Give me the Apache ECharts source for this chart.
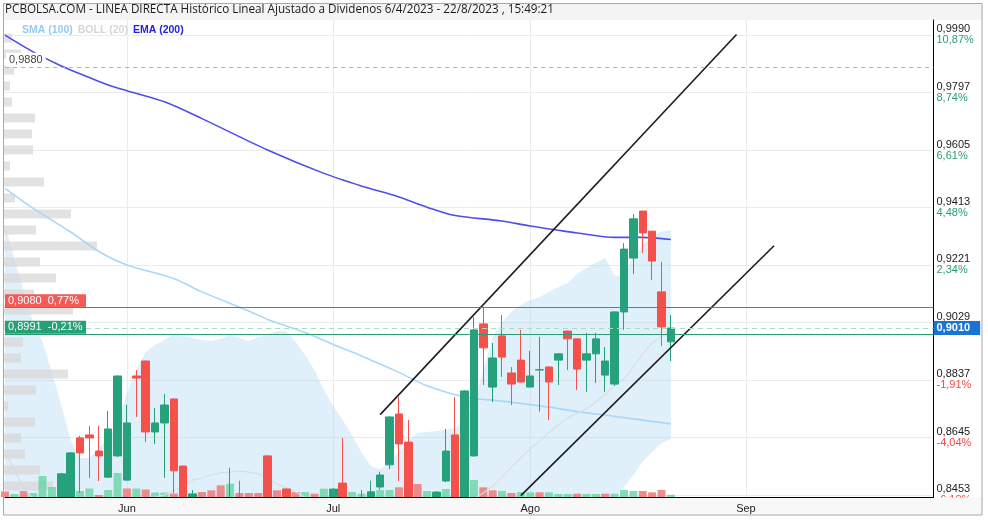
<!DOCTYPE html>
<html><head><meta charset="utf-8">
<script src="https://cdn.jsdelivr.net/npm/echarts/dist/echarts.min.js"></script>
<style>html,body{margin:0;padding:0;background:#fff}#c{width:988px;height:520px}</style>
</head><body><div id="c"></div>
<script>
// ---------- categories (trading days, dd/m) ----------
const dates = ['15/5','16/5','17/5','18/5','19/5','22/5','23/5','24/5','25/5','26/5','29/5','30/5','31/5',
'1/6','2/6','5/6','6/6','7/6','8/6','9/6','12/6','13/6','14/6','15/6','16/6','19/6','20/6','21/6','22/6','23/6','26/6','27/6','28/6','29/6','30/6',
'3/7','4/7','5/7','6/7','7/7','10/7','11/7','12/7','13/7','14/7','17/7','18/7','19/7','20/7','21/7','24/7','25/7','26/7','27/7','28/7','31/7',
'1/8','2/8','3/8','4/8','7/8','8/8','9/8','10/8','11/8','14/8','15/8','16/8','17/8','18/8','21/8','22/8','23/8','24/8','25/8','28/8','29/8','30/8','31/8',
'1/9','4/9','5/9','6/9','7/9','8/9','11/9','12/9','13/9','14/9','15/9','18/9','19/9','20/9','21/9','22/9','25/9','26/9','27/9','28/9','29/9'];
const monthStarts = ['1/6','3/7','1/8','1/9'];
const monthNames = ['Jun','Jul','Ago','Sep'];

// ---------- OHLC ----------
const opens = [0.8430,0.8410,0.8425,0.8405,0.8400,0.8420,0.8400,0.8440,0.8643,0.8653,
0.8599,0.8512,0.8583,0.8502,0.8850,0.8900,0.8663,0.8693,0.8773,0.8549,
0.8445,0.8440,0.8425,0.8415,0.8395,0.8420,0.8410,0.8405,0.8583,0.8410,
0.8472,0.8410,0.8400,0.8410,0.8405,0.8420,0.8492,0.8420,0.8430,0.8430,
0.8479,0.8553,0.8723,0.8629,0.8435,0.8425,0.8440,0.8499,0.8653,0.8440,
0.8583,0.9024,0.8813,0.8984,0.8860,0.8903,0.8813,0.8870,0.8880,0.8903,
0.9000,0.8974,0.8903,0.8924,0.8853,0.8823,0.9064,0.9244,0.9401,0.9334,
0.9131,0.8964];
const closes = [0.8410,0.8425,0.8405,0.8415,0.8435,0.8440,0.8523,0.8593,0.8593,0.8643,
0.8583,0.8673,0.8850,0.8693,0.8843,0.8663,0.8693,0.8753,0.8533,0.8420,
0.8456,0.8420,0.8410,0.8395,0.8420,0.8405,0.8400,0.8395,0.8405,0.8400,
0.8410,0.8400,0.8410,0.8405,0.8420,0.8472,0.8420,0.8430,0.8440,0.8463,
0.8519,0.8713,0.8623,0.8430,0.8420,0.8440,0.8462,0.8599,0.8430,0.8800,
0.9004,0.8944,0.8910,0.8913,0.8823,0.8830,0.8850,0.8871,0.8830,0.8924,
0.8974,0.8873,0.8924,0.8974,0.8900,0.9064,0.9274,0.9375,0.9328,0.9234,
0.9014,0.9010];
const lows = [0.8390,0.8400,0.8395,0.8395,0.8390,0.8410,0.8390,0.8430,0.8459,0.8509,
0.8499,0.8509,0.8579,0.8500,0.8713,0.8629,0.8623,0.8509,0.8459,0.8400,
0.8440,0.8410,0.8400,0.8390,0.8390,0.8400,0.8395,0.8390,0.8400,0.8390,
0.8400,0.8390,0.8395,0.8395,0.8400,0.8415,0.8410,0.8410,0.8420,0.8420,
0.8470,0.8539,0.8499,0.8420,0.8410,0.8415,0.8430,0.8495,0.8420,0.8430,
0.8580,0.8820,0.8763,0.8847,0.8753,0.8828,0.8813,0.8731,0.8703,0.8820,
0.8870,0.8803,0.8797,0.8827,0.8797,0.8817,0.9004,0.9191,0.9261,0.9171,
0.8950,0.8900];
const highs = [0.8440,0.8435,0.8438,0.8430,0.8440,0.8444,0.8525,0.8595,0.8650,0.8683,
0.8683,0.8733,0.8852,0.8753,0.8870,0.8902,0.8743,0.8790,0.8775,0.8550,
0.8469,0.8444,0.8440,0.8430,0.8543,0.8500,0.8430,0.8425,0.8585,0.8430,
0.8474,0.8425,0.8430,0.8425,0.8435,0.8474,0.8643,0.8440,0.8469,0.8500,
0.8530,0.8715,0.8780,0.8703,0.8440,0.8444,0.8465,0.8673,0.8780,0.8802,
0.9047,0.9077,0.8960,0.9054,0.8880,0.9004,0.8934,0.8981,0.8882,0.8926,
0.9001,0.8975,0.8994,0.8994,0.8947,0.9066,0.9294,0.9391,0.9402,0.9335,
0.9231,0.9054];

// ---------- volume (thousand shares) ----------
const volumes = [110,60,120,80,420,200,160,200,120,170,40,140,480,170,170,150,90,90,70,120,
50,100,134,234,266,80,80,80,160,134,174,100,100,66,166,120,100,100,66,80,
140,140,194,200,260,120,80,160,200,240,340,194,134,120,80,100,94,94,94,60,
60,66,60,60,66,66,140,120,120,94,140,46];
const volDir = ['d','u','d','u','u','u','u','u','u','u','d','u','u','d','u','d','u','u','d','d',
'u','d','d','d','u','d','d','d','d','d','u','d','u','d','u','u','d','u','u','u',
'u','u','d','d','d','u','u','u','d','u','u','d','d','u','d','u','u','d','u','u',
'u','d','u','u','d','u','u','u','d','d','d','u'];

// ---------- Bollinger (20) ----------
const bollUpper = [0.9355,0.9244,0.9131,0.9030,0.8964,0.8863,0.8753,0.8636,0.8576,0.8576,
0.8609,0.8643,0.8686,0.8793,0.8870,0.8930,0.8954,0.8970,0.8990,0.8984,
0.8977,0.8970,0.8967,0.8974,0.8987,0.8977,0.8967,0.8980,0.8990,0.9000,
0.9000,0.8964,0.8920,0.8870,0.8803,0.8750,0.8703,0.8653,0.8596,0.8549,
0.8539,0.8559,0.8596,0.8636,0.8660,0.8663,0.8666,0.8670,0.8676,0.8696,
0.8753,0.8870,0.8980,0.9030,0.9064,0.9087,0.9104,0.9114,0.9131,0.9147,
0.9161,0.9191,0.9211,0.9228,0.9244,0.9184,0.9187,0.9248,0.9288,0.9318,
0.9334,0.9338];
const bollMid = [0.8596,0.8536,0.8476,0.8440,0.8425,0.8415,0.8410,0.8405,0.8405,0.8405,
0.8410,0.8415,0.8422,0.8430,0.8436,0.8441,0.8445,0.8452,0.8469,0.8479,
0.8502,0.8509,0.8519,0.8526,0.8529,0.8533,0.8529,0.8523,0.8509,0.8489,
0.8476,0.8462,0.8445,0.8435,0.8425,0.8420,0.8415,0.8410,0.8405,0.8400,
0.8400,0.8402,0.8405,0.8408,0.8410,0.8415,0.8420,0.8425,0.8430,0.8435,
0.8440,0.8459,0.8482,0.8512,0.8546,0.8576,0.8606,0.8633,0.8660,0.8686,
0.8710,0.8726,0.8740,0.8763,0.8790,0.8817,0.8840,0.8880,0.8924,0.8960,
0.8984,0.8997];
const bollLower = [0.7837,0.7828,0.7821,0.7850,0.7886,0.7967,0.8067,0.8174,0.8234,0.8234,
0.8211,0.8187,0.8158,0.8067,0.8002,0.7952,0.7936,0.7934,0.7948,0.7974,
0.8027,0.8048,0.8071,0.8078,0.8071,0.8089,0.8091,0.8066,0.8028,0.7978,
0.7952,0.7960,0.7970,0.8000,0.8047,0.8090,0.8127,0.8167,0.8214,0.8251,
0.8261,0.8245,0.8214,0.8180,0.8160,0.8167,0.8174,0.8180,0.8184,0.8174,
0.8127,0.8048,0.7984,0.7994,0.8028,0.8065,0.8108,0.8152,0.8189,0.8225,
0.8259,0.8261,0.8269,0.8298,0.8336,0.8445,0.8479,0.8519,0.8563,0.8596,
0.8625,0.8640];

// ---------- SMA (100) and EMA (200), read at sampled days ----------
const smaDates = ['15/5','18/5','24/5','29/5','1/6','8/6','13/6','20/6','22/6','28/6','3/7','6/7','12/7','17/7','21/7','27/7','3/8','8/8','14/8','22/8'];
const smaVals = [0.9477,0.9410,0.9331,0.9266,0.9221,0.9176,0.9131,0.9067,0.9039,0.8995,0.8955,0.8917,0.8862,0.8817,0.8780,0.8766,0.8746,0.8731,0.8715,0.8690];
const emaDates = ['15/5','18/5','23/5','26/5','30/5','1/6','7/6','13/6','22/6','30/6','6/7','12/7','17/7','20/7','27/7','1/8','4/8','8/8','14/8','17/8','22/8'];
const emaVals = [0.9989,0.9933,0.9886,0.9847,0.9822,0.9803,0.9766,0.9710,0.9605,0.9527,0.9485,0.9448,0.9414,0.9386,0.9368,0.9351,0.9337,0.9328,0.9313,0.9313,0.9306];

// ---------- trend lines (drawn objects) ----------
const trendUpDates = ['10/7','31/8'];
const trendUpVals = [0.8721,0.9991];
const trendLowDates = ['31/7','6/9'];
const trendLowVals = [0.8450,0.9285];

// ---------- volume profile ----------
const profBins = ['0,8482','0,8535','0,8589','0,8642','0,8696','0,8749','0,8803','0,8856','0,8910','0,8963',
'0,9017','0,9070','0,9124','0,9177','0,9230','0,9284','0,9337','0,9391','0,9444','0,9498',
'0,9551','0,9605','0,9658','0,9712','0,9765','0,9818','0,9872','0,9925','0,9979'];
const profVols = [490,360,210,170,310,40,320,640,170,190,400,690,300,520,360,930,320,670,110,400,60,290,280,310,80,60,100,170,80];

// ---------- axis ticks & levels ----------
const tickVals = [0.8453,0.8645,0.8837,0.9029,0.9221,0.9413,0.9605,0.9797,0.9990];
const tickPct = ['-6,18%','-4,04%','-1,91%','0,21%','2,34%','4,48%','6,61%','8,74%','10,87%'];
const lastPrice = 0.9010;
const lastLabel = '0,9010';
const levelVals = [0.9880, 0.9080, 0.8991];
const levelLabels = ['0,9880', '0,9080  0,77%', '0,8991  -0,21%'];

const titleText = 'PCBOLSA.COM - LINEA DIRECTA Histórico Lineal Ajustado a Dividenos 6/4/2023 - 22/8/2023 , 15:49:21';

// ---------- build ----------
const FONT = 'Liberation Sans, Arial, sans-serif';
const UP = '#26a17b', DOWN = '#f4504c';
const candleData = opens.map((o, i) => [o, closes[i], lows[i], highs[i]]);
const volData = volumes.map((v, i) => ({ value: v, itemStyle: { color: volDir[i] === 'u' ? 'rgba(110,214,168,0.85)' : 'rgba(240,120,120,0.85)' } }));
const bandDiff = bollUpper.map((u, i) => +(u - bollLower[i]).toFixed(4));
const pairs = (ds, vs) => ds.map((d, i) => [d, vs[i]]);
const isMonthStart = (i, v) => monthStarts.indexOf(v) >= 0;

const G = { left: 5, right: 54.5, top: 20, bottom: 23 };

const chart = echarts.init(document.getElementById('c'), null, { renderer: 'canvas' });
chart.setOption({
  animation: false,
  backgroundColor: '#fff',
  textStyle: { fontFamily: FONT },
  title: { text: titleText, left: 3, top: 3, padding: [1, 2],
    textStyle: { fontFamily: 'Open Sans, sans-serif', fontSize: 11.7, fontWeight: 'normal', color: '#1a1a1a' } },
  legend: { left: 12, top: 20, itemWidth: 0, itemHeight: 0, itemGap: 0, icon: 'rect', selectedMode: false,
    textStyle: { fontSize: 10.5, fontWeight: 'bold', fontFamily: FONT },
    data: [
      { name: 'SMA (100)', textStyle: { color: '#93cdf3' } },
      { name: 'BOLL (20)', textStyle: { color: '#d6d6d6' } },
      { name: 'EMA (200)', textStyle: { color: '#2424e6' } }
    ] },
  graphic: [
    { type: 'rect', z: -10, shape: { x: 4, y: 4, width: 978, height: 16 }, style: { fill: '#f4f4f4' } },
    { type: 'rect', z: 50, shape: { x: 4, y: 497.5, width: 978, height: 17.5 }, style: { fill: '#f8f8f8' } },
    { type: 'rect', z: 100, shape: { x: 3.5, y: 3.5, width: 978.5, height: 511.5 }, style: { fill: 'none', stroke: '#a8a8a8', lineWidth: 1 } }
  ],
  grid: [
    Object.assign({}, G),
    Object.assign({}, G),
    { left: 4, right: 54.5, top: 30, height: 464 }
  ],
  xAxis: [
    { type: 'category', gridIndex: 0, data: dates, boundaryGap: false,
      axisLine: { show: false }, axisTick: { show: false }, axisLabel: { show: false },
      splitLine: { show: true, interval: isMonthStart, lineStyle: { color: '#ebebeb', width: 1 } } },
    { type: 'category', gridIndex: 1, data: dates, boundaryGap: false, z: 60,
      axisLine: { show: true, lineStyle: { color: '#000', width: 1 } }, axisTick: { show: false },
      axisLabel: { interval: isMonthStart, formatter: v => monthNames[monthStarts.indexOf(v)] || '', color: '#222', fontSize: 11, margin: 6 },
      splitLine: { show: false } },
    { type: 'value', gridIndex: 2, min: 0, max: 9295, show: false }
  ],
  yAxis: [
    { type: 'value', gridIndex: 0, position: 'right', min: 0.84456, max: 1.00395,
      axisLine: { show: true, lineStyle: { color: '#000', width: 1 } },
      axisTick: { show: false, customValues: tickVals },
      axisLabel: { customValues: tickVals, margin: 3, showMinLabel: true, showMaxLabel: true,
        formatter: v => {
          let k = -1;
          tickVals.forEach((t, i) => { if (Math.abs(t - v) < 0.0008) k = i; });
          if (k < 0) return '';
          const pct = tickPct[k];
          return '{p|' + tickVals[k].toFixed(4).replace('.', ',') + '}\n' + (pct.charAt(0) === '-' ? '{d|' : '{u|') + pct + '}';
        },
        rich: {
          p: { color: '#222', fontSize: 11, lineHeight: 11, fontFamily: FONT },
          u: { color: '#2a9d74', fontSize: 11, lineHeight: 11, fontFamily: FONT },
          d: { color: '#f04a4a', fontSize: 11, lineHeight: 11, fontFamily: FONT }
        } },
      splitLine: { show: true, lineStyle: { color: '#ebebeb', width: 1 } } },
    { type: 'value', gridIndex: 1, min: 0, max: 9540, show: false },
    { type: 'category', gridIndex: 2, data: profBins, show: false }
  ],
  series: [
    { name: 'bollLow', type: 'line', z: 1, xAxisIndex: 0, yAxisIndex: 0, stack: 'boll', data: bollLower,
      showSymbol: false, lineStyle: { opacity: 0 }, silent: true, clip: true },
    { name: 'bollBand', type: 'line', z: 1, xAxisIndex: 0, yAxisIndex: 0, stack: 'boll', data: bandDiff,
      showSymbol: false, lineStyle: { opacity: 0 }, areaStyle: { color: 'rgba(170,214,245,0.36)', opacity: 1 }, silent: true, clip: true },
    { name: 'profile', type: 'bar', z: 1, xAxisIndex: 2, yAxisIndex: 2, data: profVols, barWidth: 9,
      itemStyle: { color: 'rgba(215,215,215,0.72)' }, silent: true },
    { name: 'volume', type: 'bar', z: 1, xAxisIndex: 1, yAxisIndex: 1, data: volData, barWidth: 8, silent: true, clip: true },
    { name: 'SMA (100)', type: 'line', z: 2, data: pairs(smaDates, smaVals), showSymbol: false, smooth: 0.3, clip: true,
      lineStyle: { color: '#a9d8f7', width: 1.6 }, itemStyle: { color: '#93cdf3' } },
    { name: 'BOLL (20)', type: 'line', z: 2, data: bollMid, showSymbol: false, clip: true,
      lineStyle: { color: '#dcdcdc', width: 1.2 }, itemStyle: { color: '#d6d6d6' } },
    { name: 'EMA (200)', type: 'line', z: 2, data: pairs(emaDates, emaVals), showSymbol: false, smooth: 0.3, clip: true,
      lineStyle: { color: '#4d4dec', width: 1.6 }, itemStyle: { color: '#2424e6' } },
    { name: 'price', type: 'candlestick', z: 3, data: candleData, barWidth: 8, clip: true,
      itemStyle: { color: UP, color0: DOWN, borderColor: UP, borderColor0: DOWN, borderWidth: 1 },
      markLine: { symbol: 'none', silent: true, animation: false, precision: 4,
        data: [
          { yAxis: levelVals[0], lineStyle: { color: '#f29b95', type: [4, 4], width: 1 },
            label: { show: true, position: 'insideStartTop', formatter: levelLabels[0], color: '#444', fontSize: 11,
              backgroundColor: '#fff', padding: [2, 3, 1, 3], distance: 1 } },
          { yAxis: levelVals[1], lineStyle: { color: '#e84343', type: 'solid', width: 1 },
            label: { show: true, position: 'insideStartTop', formatter: levelLabels[1], color: '#fff', fontSize: 11,
              backgroundColor: '#f45a56', padding: [1, 4, 1, 3], width: 74, distance: 0 } },
          { yAxis: levelVals[2], lineStyle: { color: '#2a9d74', type: 'solid', width: 1 },
            label: { show: true, position: 'insideStartTop', formatter: levelLabels[2], color: '#fff', fontSize: 11,
              backgroundColor: '#27a077', padding: [1, 4, 1, 3], width: 74, distance: 0 } },
          { yAxis: lastPrice, lineStyle: { color: '#a9dcc6', type: [5, 4], width: 1 },
            label: { show: true, position: 'end', formatter: lastLabel, color: '#fff', fontSize: 11, fontWeight: 'bold',
              backgroundColor: '#1a74d6', padding: [2, 10, 1, 3], distance: 0 } }
        ] } },
    { name: 'trendUp', type: 'line', z: 4, data: pairs(trendUpDates, trendUpVals), showSymbol: false, clip: true,
      lineStyle: { color: '#1c1c1c', width: 1.6 } },
    { name: 'trendLow', type: 'line', z: 4, data: pairs(trendLowDates, trendLowVals), showSymbol: false, clip: true,
      lineStyle: { color: '#1c1c1c', width: 1.6 } }
  ]
});
</script></body></html>
